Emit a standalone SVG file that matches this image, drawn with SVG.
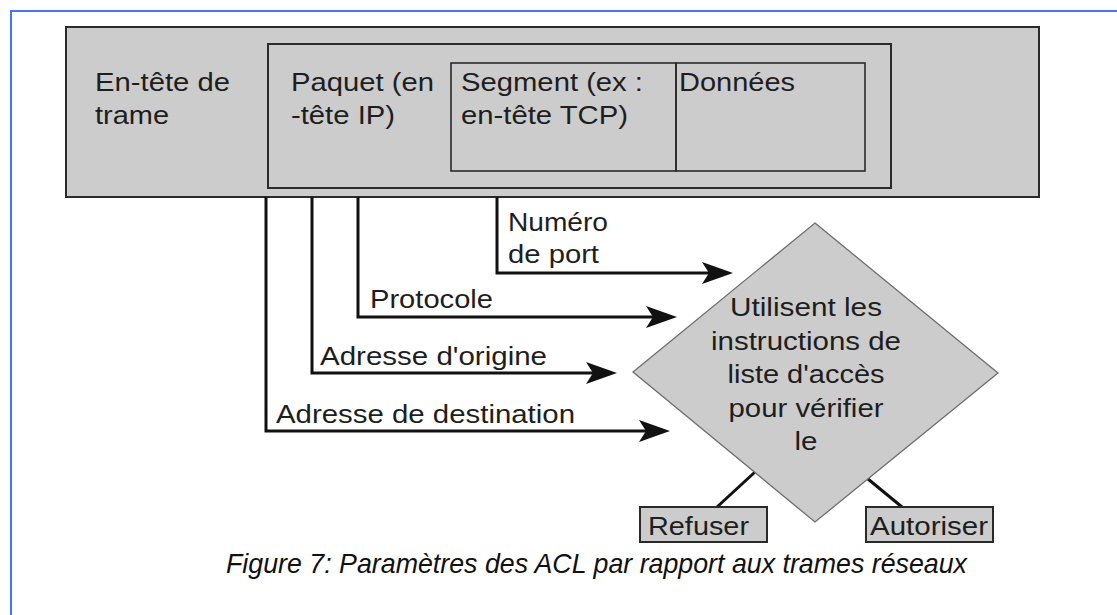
<svg xmlns="http://www.w3.org/2000/svg" width="1117" height="615" viewBox="0 0 1117 615">
  <style>
    .box { fill: #cccccc; stroke: #2a2a2a; stroke-width: 2; }
    .inner { fill: none; stroke: #2a2a2a; stroke-width: 2; }
    .thin { fill: none; stroke: #2a2a2a; stroke-width: 1.6; }
    .diamond { fill: #cccccc; stroke: #6e6e6e; stroke-width: 1.3; }
    .t { font-family: "Liberation Sans", Arial, sans-serif; font-size: 25px; fill: #1e1e1e; }
    .mid { text-anchor: middle; }
    .cap { font-family: "Liberation Sans", Arial, sans-serif; font-size: 28px; font-style: italic; fill: #111111; }
    .wire { fill: none; stroke: #111111; stroke-width: 3; stroke-linejoin: miter; }
    .frame { stroke: #4775f5; stroke-width: 2; fill: none; }
  </style>
  <defs>
    <marker id="arrow" markerUnits="userSpaceOnUse" markerWidth="34" markerHeight="24"
            viewBox="0 -12 32 24" refX="7" refY="0" orient="auto">
      <path d="M0,-11 L31,0 L0,11 L7,0 Z" fill="#111111"/>
    </marker>
  </defs>

  <rect width="1117" height="615" fill="#ffffff"/>

  <!-- page frame -->
  <g id="frame">
    <path class="frame" d="M11,615 V11 H1117"/>
  </g>

  <!-- frame header with nested packet / segment / data -->
  <g id="trame">
    <rect class="box" x="66" y="27" width="973" height="170"/>
    <text class="t" x="95" y="91" textLength="135" lengthAdjust="spacingAndGlyphs">En-tête de</text>
    <text class="t" x="95" y="124" textLength="74" lengthAdjust="spacingAndGlyphs">trame</text>
  </g>
  <g id="paquet">
    <rect class="inner" x="268" y="44" width="623" height="144"/>
    <text class="t" x="291" y="91" textLength="143" lengthAdjust="spacingAndGlyphs">Paquet (en</text>
    <text class="t" x="291" y="124" textLength="104" lengthAdjust="spacingAndGlyphs">-tête IP)</text>
  </g>
  <g id="segment">
    <rect class="thin" x="451" y="63" width="225" height="108"/>
    <text class="t" x="461" y="91" textLength="182" lengthAdjust="spacingAndGlyphs">Segment (ex :</text>
    <text class="t" x="461" y="124" textLength="167" lengthAdjust="spacingAndGlyphs">en-tête TCP)</text>
  </g>
  <g id="donnees">
    <rect class="thin" x="676" y="63" width="189" height="108"/>
    <text class="t" x="679" y="91" textLength="116" lengthAdjust="spacingAndGlyphs">Données</text>
  </g>

  <!-- connectors -->
  <g id="connectors">
    <path class="wire" d="M497,197 V273 H709" marker-end="url(#arrow)"/>
    <path class="wire" d="M358,197 V317 H653" marker-end="url(#arrow)"/>
    <path class="wire" d="M312,197 V373 H593" marker-end="url(#arrow)"/>
    <path class="wire" d="M266,197 V431 H646" marker-end="url(#arrow)"/>
    <path class="wire" d="M755,472 L717,507"/>
    <path class="wire" d="M868,479 L902,507"/>
    <text class="t" x="508" y="231" textLength="100" lengthAdjust="spacingAndGlyphs">Numéro</text>
    <text class="t" x="508" y="263" textLength="91" lengthAdjust="spacingAndGlyphs">de port</text>
    <text class="t" x="370" y="308" textLength="123" lengthAdjust="spacingAndGlyphs">Protocole</text>
    <text class="t" x="320" y="365" textLength="227" lengthAdjust="spacingAndGlyphs">Adresse d'origine</text>
    <text class="t" x="276" y="423" textLength="299" lengthAdjust="spacingAndGlyphs">Adresse de destination</text>
  </g>

  <!-- decision -->
  <g id="decision">
    <polygon class="diamond" points="815,223 998,373 815,522 633,372"/>
    <text class="t mid" x="806" y="316" textLength="152" lengthAdjust="spacingAndGlyphs">Utilisent les</text>
    <text class="t mid" x="806" y="350" textLength="190" lengthAdjust="spacingAndGlyphs">instructions de</text>
    <text class="t mid" x="806" y="383" textLength="157" lengthAdjust="spacingAndGlyphs">liste d'accès</text>
    <text class="t mid" x="806" y="417" textLength="155" lengthAdjust="spacingAndGlyphs">pour vérifier</text>
    <text class="t mid" x="806" y="450" textLength="23" lengthAdjust="spacingAndGlyphs">le</text>
  </g>

  <g id="refuser">
    <rect class="box" x="640" y="507" width="127" height="35"/>
    <text class="t" x="648" y="535" textLength="101" lengthAdjust="spacingAndGlyphs">Refuser</text>
  </g>
  <g id="autoriser">
    <rect class="box" x="866" y="507" width="127" height="35"/>
    <text class="t" x="870" y="535" textLength="118" lengthAdjust="spacingAndGlyphs">Autoriser</text>
  </g>

  <g id="caption">
    <text class="cap" x="226" y="573" textLength="741" lengthAdjust="spacingAndGlyphs">Figure 7: Paramètres des ACL par rapport aux trames réseaux</text>
  </g>
</svg>
